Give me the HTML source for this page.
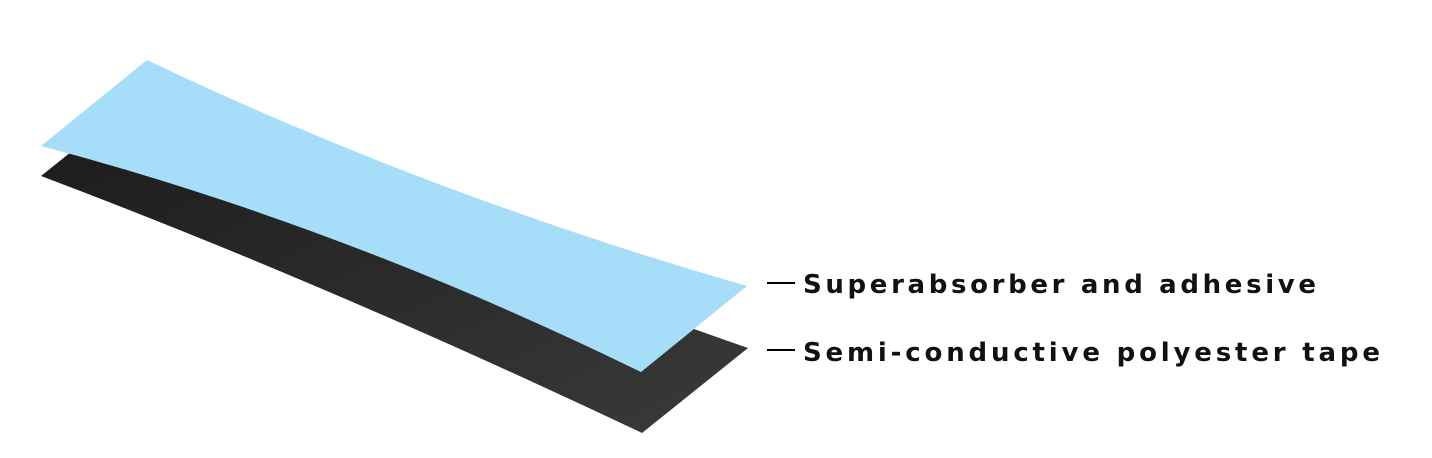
<!DOCTYPE html>
<html><head><style>body{margin:0;background:#fff}svg{display:block}</style></head>
<body>
<svg width="1432" height="458" viewBox="0 0 1432 458" xmlns="http://www.w3.org/2000/svg">
<defs>
<linearGradient id="g" x1="0" y1="0" x2="1" y2="1">
<stop offset="0" stop-color="#1a1a1a"/><stop offset="1" stop-color="#3a3a3a"/>
</linearGradient>
</defs>
<path d="M41,176 L147,91 Q420,235 748,348 L642,433 Q330,285 41,176 Z" fill="url(#g)"/>
<path d="M41,146 L147,60 Q430,195 747,286 L641,372 Q340,225 41,146 Z" fill="#a6ddf8"/>
<line x1="767" y1="283" x2="795" y2="283" stroke="#000" stroke-width="2"/>
<line x1="767" y1="350" x2="795" y2="350" stroke="#000" stroke-width="2"/>
<text x="803" y="293" font-family="DejaVu Sans, sans-serif" font-size="26" font-weight="bold" fill="#111" textLength="513" lengthAdjust="spacing">Superabsorber and adhesive</text>
<text x="803" y="361" font-family="DejaVu Sans, sans-serif" font-size="26" font-weight="bold" fill="#111" textLength="577" lengthAdjust="spacing">Semi-conductive polyester tape</text>
</svg>
</body></html>
